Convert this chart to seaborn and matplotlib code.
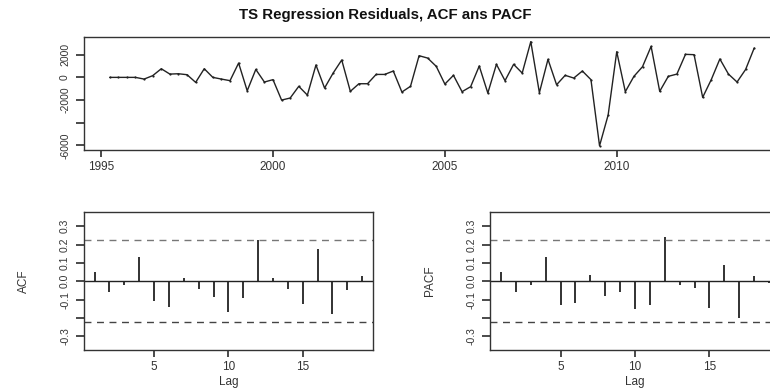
import matplotlib.pyplot as plt
import seaborn as sns
import pandas as pd
import numpy as np

# residuals, quarterly from 1995 Q2 to 2014 Q1
start_year = 1995.25
residuals = [0, 0, 0, 0, -150, 150, 760, 290, 320, 235,
             -440, 760, 0, -150, -290, 1260, -1180, 700, -410, -200,
             -2000, -1820, -790, -1560, 1090, -940, 380, 1530, -1230, -560,
             -560, 260, 260, 560, -1290, -790, 1910, 1700, 970, -590,
             180, -1260, -820, 1000, -1380, 1150, -290, 1150, 380, 3150,
             -1350, 1590, -650, 180, -60, 560, -200, -6030, -3320, 2260,
             -1260, 90, 940, 2730, -1230, 90, 290, 2030, 2000, -1760,
             -200, 1620, 290, -410, 700, 2590]

lags = list(range(1, 20))
acf_vals = [0.052, -0.056, -0.02, 0.133, -0.11, -0.139, 0.02, -0.041, -0.085, -0.168,
            -0.09, 0.227, 0.02, -0.041, -0.124, 0.178, -0.18, -0.049, 0.027]
pacf_vals = [0.05, -0.058, -0.018, 0.13, -0.128, -0.117, 0.034, -0.081, -0.056, -0.151,
             -0.128, 0.241, -0.02, -0.034, -0.146, 0.088, -0.2, 0.029, -0.01]

year_ticks = [1995, 2000, 2005, 2010]
res_ticks = [2000, 0, -2000, -4000, -6000]
res_labels = ['2000', '0', '-2000', '', '-6000']
cor_ticks = [-0.3, -0.2, -0.1, 0.0, 0.1, 0.2, 0.3]
cor_labels = ['-0.3', '', '-0.1', '0.0', '0.1', '0.2', '0.3']

sns.set_theme(style="ticks")
plt.rcParams['font.family'] = ['Liberation Sans', 'DejaVu Sans']
plt.rcParams.update({'axes.linewidth': 1.0,
                     'axes.edgecolor': '#333333',
                     'xtick.color': '#333333',
                     'ytick.color': '#333333',
                     'xtick.major.size': 5,
                     'ytick.major.size': 6,
                     'xtick.labelsize': 8.5,
                     'ytick.labelsize': 7.5})

n = len(residuals)
ts = pd.DataFrame({'time': start_year + np.arange(n) / 4.0, 'resid': residuals})
ci = 1.96 / np.sqrt(n)

fig = plt.figure(figsize=(7.7, 3.88), dpi=100)
ax_ts = fig.add_axes([0.109, 0.6134, 0.904, 0.291])
ax_acf = fig.add_axes([0.109, 0.0979, 0.3753, 0.3557])
ax_pacf = fig.add_axes([0.6368, 0.0979, 0.3757, 0.3557])

ytick_font = dict(family=['Liberation Sans Narrow', 'Liberation Sans'], fontsize=7.5,
                  rotation=90, va='center', color='#333333')

# time series of residuals
sns.lineplot(data=ts, x='time', y='resid', ax=ax_ts, color='#222222', linewidth=1.0,
             marker='o', markersize=1.6, markeredgewidth=0)
ax_ts.set_xlim(1994.5, 2014.75)
ax_ts.set_ylim(-6400, 3550)
ax_ts.set_xticks(year_ticks)
ax_ts.set_xticklabels([str(y) for y in year_ticks])
ax_ts.set_yticks(res_ticks)
ax_ts.set_yticklabels(res_labels, **ytick_font)
ax_ts.set_xlabel('')
ax_ts.set_ylabel('')

# ACF and PACF
for ax, vals, name in [(ax_acf, acf_vals, 'ACF'), (ax_pacf, pacf_vals, 'PACF')]:
    ax.vlines(lags, 0, vals, color='#222222', linewidth=1.3)
    ax.axhline(0, color='#222222', linewidth=1.0)
    ax.axhline(ci, color='#777777', linewidth=1.0, linestyle=(0, (5, 4)))
    ax.axhline(-ci, color='#444444', linewidth=1.0, linestyle=(0, (5, 4)))
    ax.set_xlim(0.28, 19.72)
    ax.set_ylim(-0.375, 0.378)
    ax.set_xticks([5, 10, 15])
    ax.set_yticks(cor_ticks)
    ax.set_yticklabels(cor_labels, **ytick_font)
    ax.set_xlabel('Lag', fontsize=8.5, color='#333333', labelpad=2)
    ax.set_ylabel(name, fontsize=8.5, color='#333333', labelpad=22,
                  family=['Liberation Sans Narrow', 'Liberation Sans'])

for ax in [ax_ts, ax_acf, ax_pacf]:
    for s in ax.spines.values():
        s.set_visible(True)
    ax.tick_params(axis='y', pad=4)
    ax.tick_params(axis='x', pad=3)

fig.text(0.5, 0.962, 'TS Regression Residuals, ACF ans PACF', ha='center', va='center',
         fontsize=10.8, fontweight='bold', color='#111111')

plt.savefig('out.png', dpi=100)
